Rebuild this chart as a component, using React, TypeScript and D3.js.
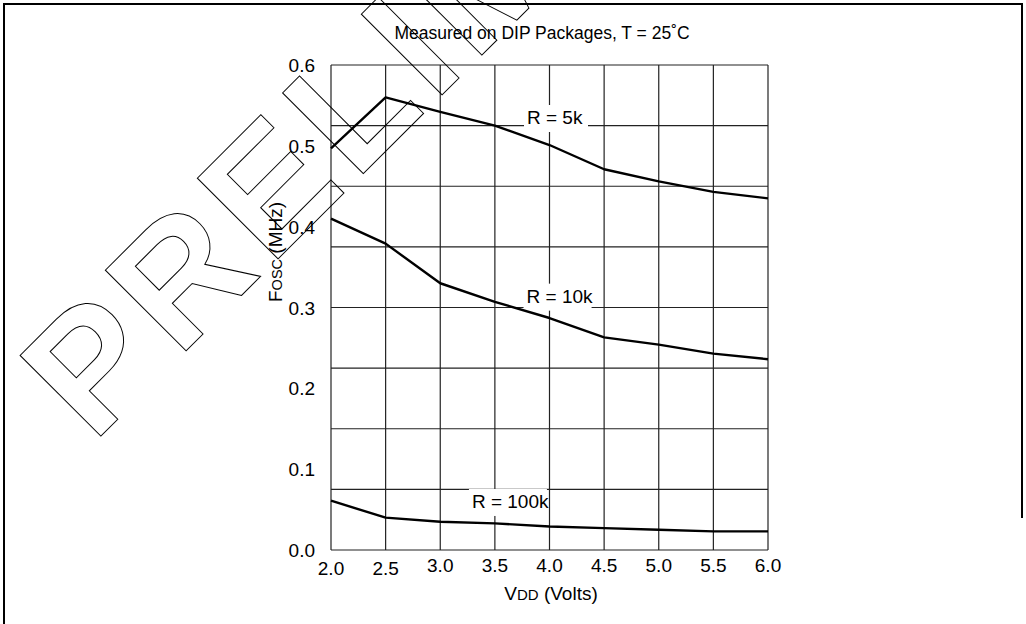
import React from "react";
import * as d3 from "d3";

const vdd = [2.0, 2.5, 3.0, 3.5, 4.0, 4.5, 5.0, 5.5, 6.0];
const r5k = [0.497, 0.560, 0.542, 0.525, 0.501, 0.471, 0.456, 0.443, 0.435];
const r10k = [0.410, 0.379, 0.330, 0.307, 0.287, 0.263, 0.254, 0.243, 0.236];
const r100k = [0.061, 0.040, 0.035, 0.033, 0.029, 0.027, 0.025, 0.023, 0.023];

const xTickLabels = ["2.0", "2.5", "3.0", "3.5", "4.0", "4.5", "5.0", "5.5", "6.0"];
const yTickValues = [0, 0.1, 0.2, 0.3, 0.4, 0.5, 0.6];
const yTickLabels = ["0.0", "0.1", "0.2", "0.3", "0.4", "0.5", "0.6"];
const yGridCount = 8;

const curveLabels = ["R = 5k", "R = 10k", "R = 100k"];
const labelX = [3.794, 3.79, 3.29];
const labelY = [0.527, 0.306, 0.052];

const W = 1026;
const H = 624;
const FONT = "'Liberation Sans', Arial, Helvetica, sans-serif";

export default function App() {
  const x = d3.scaleLinear().domain([2, 6]).range([331, 768]);
  const y = d3.scaleLinear().domain([0, 0.6]).range([550, 65]);
  const line = d3
    .line<number>()
    .x((_, i) => x(vdd[i]))
    .y((d) => y(d));

  const series = [r5k, r10k, r100k];
  const yGrid = d3.range(yGridCount + 1).map((i) => (0.6 * i) / yGridCount);
  const labelWidths = [64, 68, 78];

  return (
    <svg
      width={W}
      height={H}
      style={{ position: "absolute", left: 0, top: 0, background: "#fff" }}
      fontFamily={FONT}
    >
      <rect x={0} y={0} width={W} height={H} fill="#fff" />
      {/* frame */}
      <path d="M4,624 L4,4 L1022,4 L1022,518" fill="none" stroke="#000" strokeWidth={2} />

      {/* grid */}
      {vdd.map((v, i) => (
        <line key={"vx" + i} x1={x(v)} x2={x(v)} y1={y(0)} y2={y(0.6)} stroke="#222" strokeWidth={1.2} />
      ))}
      {yGrid.map((g, i) => (
        <line key={"hy" + i} x1={x(2)} x2={x(6)} y1={y(g)} y2={y(g)} stroke="#222" strokeWidth={1.2} />
      ))}

      {/* curve labels with white boxes */}
      {curveLabels.map((t, i) => (
        <g key={"lab" + i}>
          <rect
            x={x(labelX[i]) - 3}
            y={y(labelY[i]) - 19}
            width={labelWidths[i]}
            height={27}
            fill="#fff"
          />
        </g>
      ))}

      {/* curves */}
      {series.map((s, i) => (
        <path key={"s" + i} d={line(s) || ""} fill="none" stroke="#000" strokeWidth={2.4} strokeLinejoin="round" />
      ))}

      {curveLabels.map((t, i) => (
        <text key={"lt" + i} x={x(labelX[i])} y={y(labelY[i])} fontSize={19} fill="#000">
          {t}
        </text>
      ))}

      {/* y tick labels */}
      {yTickValues.map((v, i) => (
        <text key={"yt" + i} x={x(2) - 16} y={y(v) + 7} fontSize={19} textAnchor="end" fill="#000">
          {yTickLabels[i]}
        </text>
      ))}

      {/* x tick labels */}
      {vdd.map((v, i) => (
        <text key={"xt" + i} x={x(v)} y={i < 2 ? 575 : 572} fontSize={19} textAnchor="middle" fill="#000">
          {xTickLabels[i]}
        </text>
      ))}

      {/* axis titles */}
      <text x={551} y={600} fontSize={19} textAnchor="middle" fill="#000">
        V<tspan fontSize={15}>DD</tspan> (Volts)
      </text>
      <text transform="translate(282,252) rotate(-90)" fontSize={19} textAnchor="middle" fill="#000">
        F<tspan fontSize={14.5}>OSC</tspan> (MHz)
      </text>

      {/* title */}
      <text x={542} y={39} fontSize={17.5} textAnchor="middle" fill="#000">
        Measured on DIP Packages,  T = 25˚C
      </text>

      {/* watermark */}
      <text
        transform="translate(93,444) rotate(-45)"
        fontSize={166}
        fontWeight="bold"
        letterSpacing={10}
        fill="none"
        stroke="#000"
        strokeWidth={1}
        style={{ whiteSpace: "pre" }}
      >
        PRELIMINARY
      </text>
    </svg>
  );
}
